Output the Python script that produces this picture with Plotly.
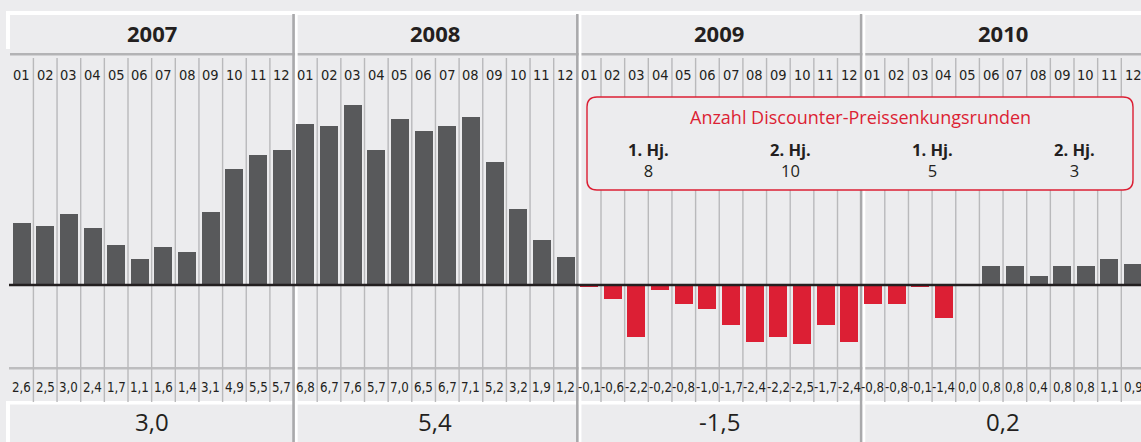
import plotly.graph_objects as go

# ---------------- data ----------------
years = ["2007", "2008", "2009", "2010"]
months = ["01", "02", "03", "04", "05", "06", "07", "08", "09", "10", "11", "12"]
values_2007 = [2.6, 2.5, 3.0, 2.4, 1.7, 1.1, 1.6, 1.4, 3.1, 4.9, 5.5, 5.7]
values_2008 = [6.8, 6.7, 7.6, 5.7, 7.0, 6.5, 6.7, 7.1, 5.2, 3.2, 1.9, 1.2]
values_2009 = [-0.1, -0.6, -2.2, -0.2, -0.8, -1.0, -1.7, -2.4, -2.2, -2.5, -1.7, -2.4]
values_2010 = [-0.8, -0.8, -0.1, -1.4, 0.0, 0.8, 0.8, 0.4, 0.8, 0.8, 1.1, 0.9]
yearly_avg = [3.0, 5.4, -1.5, 0.2]
box_title = "Anzahl Discounter-Preissenkungsrunden"
half_year_labels = ["1. Hj.", "2. Hj.", "1. Hj.", "2. Hj."]
half_year_years = ["2009", "2009", "2010", "2010"]
price_cut_rounds = [8, 10, 5, 3]

# ---------------- styles / geometry ----------------
W, H = 1141, 442
BG = "#ECECEE"
DARK = "#58595B"
RED = "#DC1F34"
TXT = "#231F20"
COL_PX = 23.65          # pixel width of one month column
X0_PX = 9.75            # left edge of first column
ZERO_PY = 285           # pixel row of zero line
UNIT_PX = 23.7          # pixels per percentage point
COND = "DejaVu Sans Condensed, Liberation Sans Narrow, Arial Narrow, sans-serif"
SANS = "Open Sans, Noto Sans, DejaVu Sans, sans-serif"

all_values = values_2007 + values_2008 + values_2009 + values_2010
month_labels = months * len(years)
xs = list(range(len(all_values)))
colors = [DARK if v >= 0 else RED for v in all_values]


def fmt(v):
    return f"{v:.1f}".replace(".", ",")


def px(p):
    return p / W


def py(p):
    return 1 - p / H


x_range = [(0 - X0_PX) / COL_PX - 0.5, (W - X0_PX) / COL_PX - 0.5]
y_range = [(ZERO_PY - H) / UNIT_PX, ZERO_PY / UNIT_PX]

fig = go.Figure()
fig.add_trace(go.Bar(x=xs, y=all_values, marker=dict(color=colors, line=dict(width=0)),
                     width=0.76, hoverinfo="skip"))

shapes = []


def rect(x0, x1, y0, y1, color, layer="below"):
    shapes.append(dict(type="rect", xref="paper", yref="paper",
                       x0=px(x0), x1=px(x1), y0=py(y1), y1=py(y0),
                       fillcolor=color, line=dict(width=0), layer=layer))


# white bevels of header & average row
rect(6, W, 11, 15, "white")
rect(6, 10, 11, 49, "white")
rect(6, W, 401, 404.5, "white")
rect(6, 10, 401, H, "white")
# grey line under year header and above value row
rect(10, W, 53, 55.5, "#B3B3B5")
rect(9, W, 367, 369.5, "#BDBDBF")

# month dividers
for i in range(1, len(all_values)):
    if i % 12 == 0:
        continue
    shapes.append(dict(type="line", xref="x", yref="paper", x0=i - 0.5, x1=i - 0.5,
                       y0=py(58), y1=py(402), line=dict(color="#B9B9BB", width=1.4),
                       layer="below"))
# year dividers (grey + white highlight)
for k in range(1, len(years)):
    b = 12 * k - 0.5
    shapes.append(dict(type="line", xref="x", yref="paper", x0=b, x1=b,
                       y0=py(14), y1=0, line=dict(color="#A9A9AB", width=2.6), layer="below"))
    w = b + 2.8 / COL_PX
    shapes.append(dict(type="line", xref="x", yref="paper", x0=w, x1=w,
                       y0=py(14), y1=0, line=dict(color="white", width=2.6), layer="below"))

# zero line
shapes.append(dict(type="line", xref="paper", yref="y", x0=px(9), x1=1, y0=0, y1=0,
                   line=dict(color=TXT, width=2.4), layer="above"))

# rounded annotation box
bx0, bx1, by0, by1, r = 587, 1133, 97, 190, 10
path = (f"M {px(bx0 + r)},{py(by0)} L {px(bx1 - r)},{py(by0)} "
        f"Q {px(bx1)},{py(by0)} {px(bx1)},{py(by0 + r)} "
        f"L {px(bx1)},{py(by1 - r)} Q {px(bx1)},{py(by1)} {px(bx1 - r)},{py(by1)} "
        f"L {px(bx0 + r)},{py(by1)} Q {px(bx0)},{py(by1)} {px(bx0)},{py(by1 - r)} "
        f"L {px(bx0)},{py(by0 + r)} Q {px(bx0)},{py(by0)} {px(bx0 + r)},{py(by0)} Z")
shapes.append(dict(type="path", xref="paper", yref="paper", path=path,
                   fillcolor=BG, line=dict(color=RED, width=1.4), layer="above"))

annotations = []


def ann(x, y, text, size, color=TXT, family=SANS, xref="x", bold=False):
    annotations.append(dict(x=x, y=y, xref=xref, yref="paper", text=f"<b>{text}</b>" if bold else text,
                            showarrow=False, xanchor="center", yanchor="middle",
                            font=dict(size=size, color=color, family=family)))


for i, (m, v) in enumerate(zip(month_labels, all_values)):
    ann(i, py(75), m, 14.5, family=COND)
    ann(i, py(387), fmt(v), 13.2, family=COND)

for k, (yr, avg) in enumerate(zip(years, yearly_avg)):
    ann(12 * k + 5.5, py(33), yr, 22, bold=True)
    ann(12 * k + 5.5, py(421), fmt(avg), 24)

ann(px((bx0 + bx1) / 2), py(117), box_title, 18, color=RED, xref="paper")
for lab, yr, n in zip(half_year_labels, half_year_years, price_cut_rounds):
    start = 12 * years.index(yr) + (0 if lab.startswith("1") else 6)
    ann(start + 2.5, py(160), f"<b>{lab}</b><br>{n}", 16.5)

fig.update_layout(
    width=W, height=H, margin=dict(l=0, r=0, t=0, b=0),
    paper_bgcolor=BG, plot_bgcolor=BG, showlegend=False, bargap=0,
    xaxis=dict(range=x_range, visible=False, fixedrange=True),
    yaxis=dict(range=y_range, visible=False, fixedrange=True),
    shapes=shapes, annotations=annotations,
)
fig.write_html("out.html", config={"displayModeBar": False},
               post_script="document.body.style.margin='0px';document.body.style.background='#ECECEE';")
